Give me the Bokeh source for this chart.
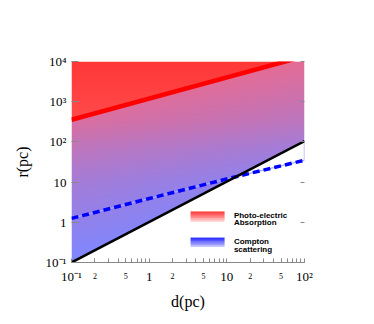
import numpy as np
from bokeh.plotting import figure
from bokeh.models import FixedTicker, LogAxis
from bokeh.core.properties import value
from bokeh.embed import file_html
from bokeh.resources import INLINE

# ---- data ----
d_major = [0.1, 1, 10, 100]
d_major_labels = ["10⁻¹", "1", "10", "10²"]
d_minor_labeled = [0.2, 0.5, 2, 5, 20, 50]
d_minor_labels = ["2", "5", "2", "5", "2", "5"]
r_major = [0.1, 1, 10, 100, 1000, 10000]
r_major_labels = ["10⁻¹", "1", "10", "10²", "10³", "10⁴"]

photo_d = [0.1, 100]          # photo-electric absorption limit (red)
photo_r = [355, 13500]
compton_d = [0.1, 1, 10, 100]  # compton scattering limit (blue dashed)
compton_r = [1.25, 3.9, 12, 35]
limit_d = [0.1, 100]          # r = d (black)
limit_r = [0.1, 105]

legend_texts = [["Photo-electric", "Absorption"], ["Compton", "scattering"]]

FONT_SERIF = "Liberation Serif"
FONT_SANS = "Liberation Sans"

p = figure(width=374, height=324, x_axis_type="log", y_axis_type="log",
           x_range=(d_major[0], d_major[-1]), y_range=(r_major[0], r_major[-1]),
           output_backend="svg", toolbar_location=None,
           min_border_left=71, min_border_right=70, min_border_top=61, min_border_bottom=62)
p.outline_line_color = None
p.grid.visible = False
p.background_fill_color = "white"
p.border_fill_color = "white"

ulo, uhi = np.log10(d_major[0]), np.log10(d_major[-1])
vlo, vhi = np.log10(r_major[0]), np.log10(r_major[-1])

def pack(R, G, B, A):
    ny, nx = R.shape
    img = np.empty((ny, nx), dtype=np.uint32)
    view = img.view(dtype=np.uint8).reshape((ny, nx, 4))
    view[..., 0] = np.clip(R, 0, 255)
    view[..., 1] = np.clip(G, 0, 255)
    view[..., 2] = np.clip(B, 0, 255)
    view[..., 3] = np.clip(A, 0, 255)
    return img

# ---- gradient fill above r=d ----
nx, ny = 466, 402
u = ulo + (uhi - ulo) * (np.arange(nx) + 0.5) / nx
v = vlo + (vhi - vlo) * (np.arange(ny) + 0.5) / ny
U, V = np.meshgrid(u, v)
black_v = np.interp(U, np.log10(limit_d), np.log10(limit_r))
red_v = np.interp(U, np.log10(photo_d), np.log10(photo_r))
K = vhi - V
s = np.interp(K, [0, 1.5, 2.2, 3.0, 4.8, 5.0], [-0.3, 0.1, 0.38, 0.62, 0.97, 1.0]) + 0.1 * (U - ulo)
s = np.clip(s, 0, 1)
R = 228 + (128 - 228) * s
G = 108 + (135 - 108) * s
B = 150 + (255 - 150) * s
above = V > red_v
g_red = 55 + 14 * K
R = np.where(above, 255, R)
G = np.where(above, g_red, G)
B = np.where(above, g_red, B)
A = np.where(V >= black_v, 255, 0)
p.image_rgba(image=[pack(R, G, B, A)], x=d_major[0], y=r_major[0],
             dw=d_major[-1] - d_major[0], dh=r_major[-1] - r_major[0])

# ---- lines ----
p.line([compton_d[-1], limit_d[-1]], [compton_r[-1], limit_r[-1]], color="#aab0ff", line_width=1.5)
p.line(compton_d, compton_r, color="#9fa8ff", line_width=1.2)
p.line(compton_d, compton_r, color="#0000ff", line_width=3.5, line_dash="7 4")
p.line(limit_d, limit_r, color="black", line_width=2.5)
p.line(photo_d, photo_r, color="#ff0000", line_width=4.5)

# ---- legend (frame-fraction placement) ----
def fx(f):
    return 10 ** (ulo + (uhi - ulo) * f)

def fy(f):
    return 10 ** (vlo + (vhi - vlo) * f)

def swatch(top, bottom, n=12):
    t = np.linspace(0, 1, n)[:, None] * np.ones((1, 4))  # 0 bottom -> 1 top
    R = bottom[0] + (top[0] - bottom[0]) * t
    G = bottom[1] + (top[1] - bottom[1]) * t
    B = bottom[2] + (top[2] - bottom[2]) * t
    return pack(R, G, B, np.full_like(R, 255))

sx0, sx1 = fx(0.511), fx(0.657)
for (ftop, fbot), top, bottom in [((0.254, 0.2015), (255, 45, 45), (255, 215, 215)),
                                  ((0.124, 0.077), (30, 30, 255), (200, 200, 255))]:
    y0, y1 = fy(fbot), fy(ftop)
    p.image_rgba(image=[swatch(top, bottom)], x=sx0, y=y0, dw=sx1 - sx0, dh=y1 - y0)

tx = fx(0.697)
p.text(x=[tx] * 4, y=[fy(0.235), fy(0.1975), fy(0.103), fy(0.066)],
       text=legend_texts[0] + legend_texts[1],
       text_font=value(FONT_SANS), text_font_style="bold", text_font_size="8px",
       text_baseline="alphabetic", text_align="left", text_color="black")

# ---- x axes ----
# axis A (next to the frame): axis line, all ticks, small "2"/"5" labels
minor = [m * 10.0 ** e for e in (-1, 0, 1) for m in range(1, 10)] + [d_major[-1]]
xa = p.xaxis[0]
xa.ticker = FixedTicker(ticks=d_minor_labeled, minor_ticks=minor)
xa.major_label_overrides = dict(zip(d_minor_labeled, d_minor_labels))
xa.major_tick_in = 4
xa.major_tick_out = 0
xa.minor_tick_in = 4
xa.minor_tick_out = 0
xa.axis_line_color = "#888888"
xa.major_tick_line_color = "#888888"
xa.minor_tick_line_color = "#888888"
xa.major_label_text_font = FONT_SERIF
xa.major_label_text_font_size = "8px"
xa.major_label_text_color = "black"
xa.major_label_standoff = 10

# axis B (stacked below A, pulled up with a negative standoff): decade labels + title
xb = LogAxis(ticker=FixedTicker(ticks=d_major, minor_ticks=[]))
xb.major_label_overrides = dict(zip(d_major, d_major_labels))
xb.axis_line_color = None
xb.major_tick_line_color = None
xb.minor_tick_line_color = None
xb.major_tick_in = 0
xb.major_tick_out = 0
xb.major_label_text_font = FONT_SERIF
xb.major_label_text_font_size = "13px"
xb.major_label_text_color = "black"
xb.major_label_standoff = -13
xb.axis_label = "d(pc)"
xb.axis_label_text_font = FONT_SERIF
xb.axis_label_text_font_size = "16px"
xb.axis_label_text_font_style = "normal"
xb.axis_label_text_color = "black"
xb.axis_label_standoff = 6
p.add_layout(xb, "below")

# ---- y axes ----
ya = p.yaxis[0]
ya.ticker = FixedTicker(ticks=r_major, minor_ticks=[])
ya.major_label_overrides = dict(zip(r_major, r_major_labels))
ya.major_tick_in = 7
ya.major_tick_out = 0
ya.minor_tick_line_color = None
ya.axis_line_color = None
ya.major_tick_line_color = "#888888"
ya.major_label_text_font = FONT_SERIF
ya.major_label_text_font_size = "13px"
ya.major_label_text_color = "black"
ya.major_label_standoff = 5
ya.axis_label = "r(pc)"
ya.axis_label_text_font = FONT_SERIF
ya.axis_label_text_font_size = "16px"
ya.axis_label_text_font_style = "normal"
ya.axis_label_text_color = "black"
ya.axis_label_standoff = 12

ra = LogAxis(ticker=FixedTicker(ticks=r_major, minor_ticks=[]))
ra.axis_line_color = None
ra.major_tick_in = 4
ra.major_tick_out = 0
ra.major_tick_line_color = "#888888"
ra.minor_tick_line_color = None
ra.major_label_text_alpha = 0
ra.major_label_text_font_size = "8px"
p.add_layout(ra, "right")

open("out.html", "w").write(file_html(p, INLINE))
